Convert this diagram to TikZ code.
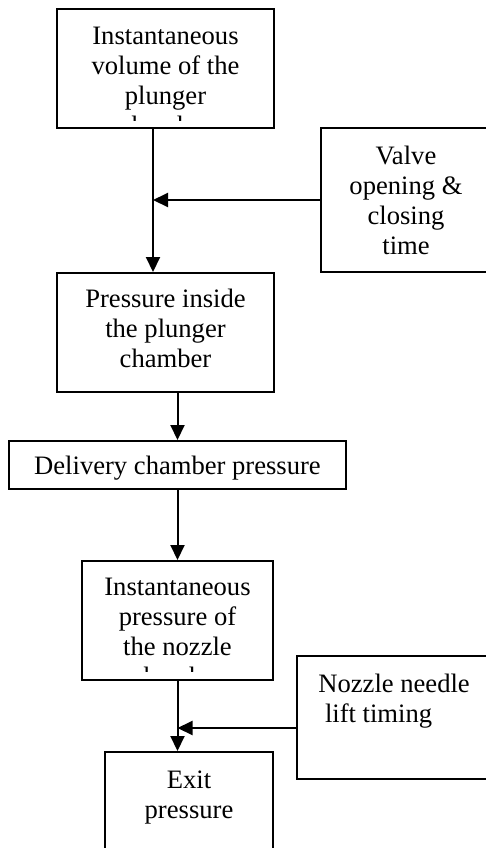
\documentclass[tikz,border=0pt]{standalone}
\usepackage{fontspec}
\setmainfont{Liberation Serif}
\usetikzlibrary{arrows.meta}
\begin{document}
\begin{tikzpicture}[x=0.5pt,y=-0.5pt,
  box/.style={draw,line width=1pt,rectangle,inner sep=0pt},
  txt/.style={inner sep=0pt,align=center,anchor=north,font=\fontsize{13.3}{15}\selectfont},
  txtl/.style={inner sep=0pt,align=left,anchor=north west,font=\fontsize{13.3}{15}\selectfont},
  arr/.style={line width=1pt,-{Triangle[length=7.5pt,width=7pt]}}]
\clip (0,0) rectangle (486,848);
\fill[white] (0,0) rectangle (486,848);
% boxes
\node[box,minimum width=108.5pt,minimum height=59.5pt] (b1) at (165.5,68.5) {};
\node[box,minimum width=108.5pt,minimum height=59.5pt] (b2) at (165.5,332.5) {};
\node[box,minimum width=168.5pt,minimum height=24pt] (del) at (177.5,465) {};
\node[box,minimum width=95.5pt,minimum height=59.5pt] (b4) at (177.5,620.5) {};
\node[box,minimum width=84pt,minimum height=64pt] (ex) at (189,816) {};
\node[box,minimum width=85pt,minimum height=72pt] (valve) at (406,200) {};
\node[box,minimum width=97pt,minimum height=61.5pt] (noz) at (394,717.5) {};
% texts (the fourth lines are cut off by the text frame, as in the original)
\begin{scope}
\clip ([yshift=4.2pt]b1.south west) rectangle (b1.north east);
\node[txt] (t1) at (165.5,24) {\rule{0pt}{10pt}Instantaneous\\volume of the\\plunger\\chamber};
\end{scope}
\node[txt] (t2) at (165.5,287) {\rule{0pt}{10pt}Pressure inside\\the plunger\\chamber};
\node[txt] (t3) at (177.5,454) {\rule{0pt}{10pt}Delivery chamber pressure};
\begin{scope}
\clip ([yshift=4.7pt]b4.south west) rectangle (b4.north east);
\node[txt] (t4) at (177.5,575) {\rule{0pt}{10pt}Instantaneous\\pressure of\\the nozzle\\chamber};
\end{scope}
\node[txt] (t5) at (189,768) {\rule{0pt}{10pt}Exit\\pressure};
\node[txt] (t6) at (406,144) {\rule{0pt}{10pt}Valve\\opening \&\\closing\\time};
\node[txtl] (t7) at (318,672) {\rule{0pt}{10pt}Nozzle needle\\\hspace*{3.3pt}lift timing};
% connectors
\coordinate (j1) at (153,200);
\coordinate (j2) at (177.5,728);
\draw[arr] (b1.south -| j1) -- (b2.north -| j1);
\draw[arr] (valve.west |- j1) -- (j1);
\draw[arr] (b2.south -| del.north) -- (del.north);
\draw[arr] (del.south) -- (b4.north);
\draw[arr] (b4.south -| j2) -- (ex.north -| j2);
\draw[arr] (noz.west |- j2) -- (j2);
\end{tikzpicture}
\end{document}
